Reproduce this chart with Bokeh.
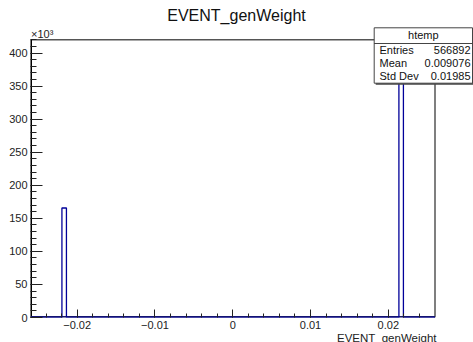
from bokeh.plotting import figure
from bokeh.models import (Range1d, FixedTicker, CustomJSTickFormatter,
                          Label, BoxAnnotation, Title)
from bokeh.embed import file_html
from bokeh.resources import INLINE

# ---- data ----
hist_name = "htemp"
var_name = "EVENT_genWeight"
bin_low = [-0.02196, 0.02136]
bin_high = [-0.02138, 0.02194]
bin_counts = [165590, 401302]
x_lim = [-0.026, 0.026]
y_lim = [0, 420000]
x_major = [-0.02, -0.01, 0.0, 0.01, 0.02]
x_minor = [round(-0.024 + 0.002 * i, 3) for i in range(25)]
y_major = [0, 50000, 100000, 150000, 200000, 250000, 300000, 350000, 400000]
y_minor = [10000 * i for i in range(43)]
stats_names = ["Entries", "Mean", "Std Dev"]
stats_values = ["566892", "0.009076", "0.01985"]

FONT = "Liberation Sans"
NAVY = "#000099"

# ---- layout geometry (canvas pixels) ----
W, H = 473, 342
AXL, AXR, AXT, AXB = 30.0, 434.5, 39.3, 317.0   # ROOT frame box
BL, BB = 30, H - 317                              # left / bottom panels
xs_per_px = (x_lim[1] - x_lim[0]) / (AXR - AXL)
ys_per_px = (y_lim[1] - y_lim[0]) / (AXB - AXT)
x_end = x_lim[0] + (W - BL) * xs_per_px
y_end = y_lim[0] + AXB * ys_per_px


def dx(px):
    return x_lim[0] + (px - AXL) * xs_per_px


def dy(py):
    return y_lim[0] + (AXB - py) * ys_per_px


p = figure(width=W, height=H, output_backend="svg", toolbar_location=None,
           x_range=Range1d(x_lim[0], x_end), y_range=Range1d(y_lim[0], y_end),
           min_border_left=BL, min_border_top=0, min_border_right=0,
           min_border_bottom=BB)
p.title = None
p.grid.visible = False
p.background_fill_color = "white"
p.border_fill_color = "white"
p.outline_line_color = None

# ROOT frame lines
p.segment(x0=[x_lim[0], x_lim[1]], y0=[y_lim[1], y_lim[0]],
          x1=[x_lim[1], x_lim[1]], y1=[y_lim[1], y_lim[1]],
          line_color="#555555", line_width=1.5)
p.segment(x0=[x_lim[0]], y0=[y_lim[0]], x1=[x_lim[0]], y1=[y_lim[1]],
          line_color="black", line_width=3)
p.segment(x0=[x_lim[0]], y0=[y_lim[0]], x1=[x_lim[1]], y1=[y_lim[0]],
          line_color="#1a1a66", line_width=3)

# histogram outline (ROOT style step polyline)
xs = [x_lim[0]]
ys = [0]
for lo, hi, c in zip(bin_low, bin_high, bin_counts):
    xs += [lo, lo, hi, hi]
    ys += [0, c, c, 0]
xs.append(x_lim[1])
ys.append(0)
p.line(xs, ys, line_color=NAVY, line_width=1.3)

# axes
for ax in (p.xaxis[0], p.yaxis[0]):
    ax.major_tick_out = 0
    ax.minor_tick_out = 0
    ax.axis_line_color = None
    ax.major_label_text_font = FONT
    ax.major_label_text_font_size = "11px"
    ax.major_label_text_color = "#222222"
    ax.major_tick_line_color = "#222222"
    ax.minor_tick_line_color = "#222222"

xa = p.xaxis[0]
xa.ticker = FixedTicker(ticks=x_major, minor_ticks=x_minor)
xa.formatter = CustomJSTickFormatter(code="""
    const v = Math.round(tick*100)/100;
    if (v == 0) return "0";
    const s = Math.abs(v).toFixed(2);
    return (v < 0 ? "\u2212" : "") + s;
""")
xa.major_tick_in = 8
xa.minor_tick_in = 4
xa.major_label_standoff = 3

ya = p.yaxis[0]
ya.ticker = FixedTicker(ticks=y_major, minor_ticks=y_minor)
ya.formatter = CustomJSTickFormatter(code="return (tick/1000).toFixed(0);")
ya.major_tick_in = 12
ya.minor_tick_in = 6
ya.major_label_standoff = 3

# axis title (below, right aligned to the ROOT frame)
p.add_layout(Title(text=var_name, align="right", offset=(W - 436),
                   standoff=-4, text_font=FONT, text_font_size="11.5px",
                   text_font_style="normal", text_color="#222222"), "below")

# main title
p.add_layout(Label(x=dx(236), y=dy(15), text=var_name, text_align="center",
                   text_baseline="middle", text_font=FONT,
                   text_font_size="16px", text_color="#111111"))
# exponent
p.add_layout(Label(x=dx(30.5), y=dy(33), text="\u00d710\u00b3",
                   text_align="left", text_baseline="middle", text_font=FONT,
                   text_font_size="11px", text_color="#222222"))

# stats box
bx0, bx1, by0, by1 = 373.7, 472, 27.3, 82.7
p.add_layout(BoxAnnotation(left=dx(bx0 + 1.5), right=dx(bx1 + 1.5),
                           top=dy(by0 + 1.5), bottom=dy(by1 + 1.5),
                           fill_color="#444444", fill_alpha=1.0,
                           line_color=None))
p.add_layout(BoxAnnotation(left=dx(bx0), right=dx(bx1), top=dy(by0),
                           bottom=dy(by1), fill_color="white", fill_alpha=1.0,
                           line_color="#444444", line_width=1, line_alpha=1.0))
p.add_layout(BoxAnnotation(left=dx(bx0), right=dx(bx1), top=dy(43),
                           bottom=dy(43), fill_alpha=0, line_color="#444444",
                           line_width=1, line_alpha=1.0))
p.add_layout(Label(x=dx((bx0 + bx1) / 2), y=dy(34), text=hist_name,
                   text_align="center", text_baseline="middle", text_font=FONT,
                   text_font_size="11px", text_color="#111111"))
row_y = [49, 62, 75.5]
for name, val, ry in zip(stats_names, stats_values, row_y):
    p.add_layout(Label(x=dx(379), y=dy(ry), text=name, text_align="left",
                       text_baseline="middle", text_font=FONT,
                       text_font_size="11px", text_color="#111111"))
    p.add_layout(Label(x=dx(470), y=dy(ry), text=val, text_align="right",
                       text_baseline="middle", text_font=FONT,
                       text_font_size="11px", text_color="#111111"))

open("out.html", "w").write(file_html(p, INLINE))
